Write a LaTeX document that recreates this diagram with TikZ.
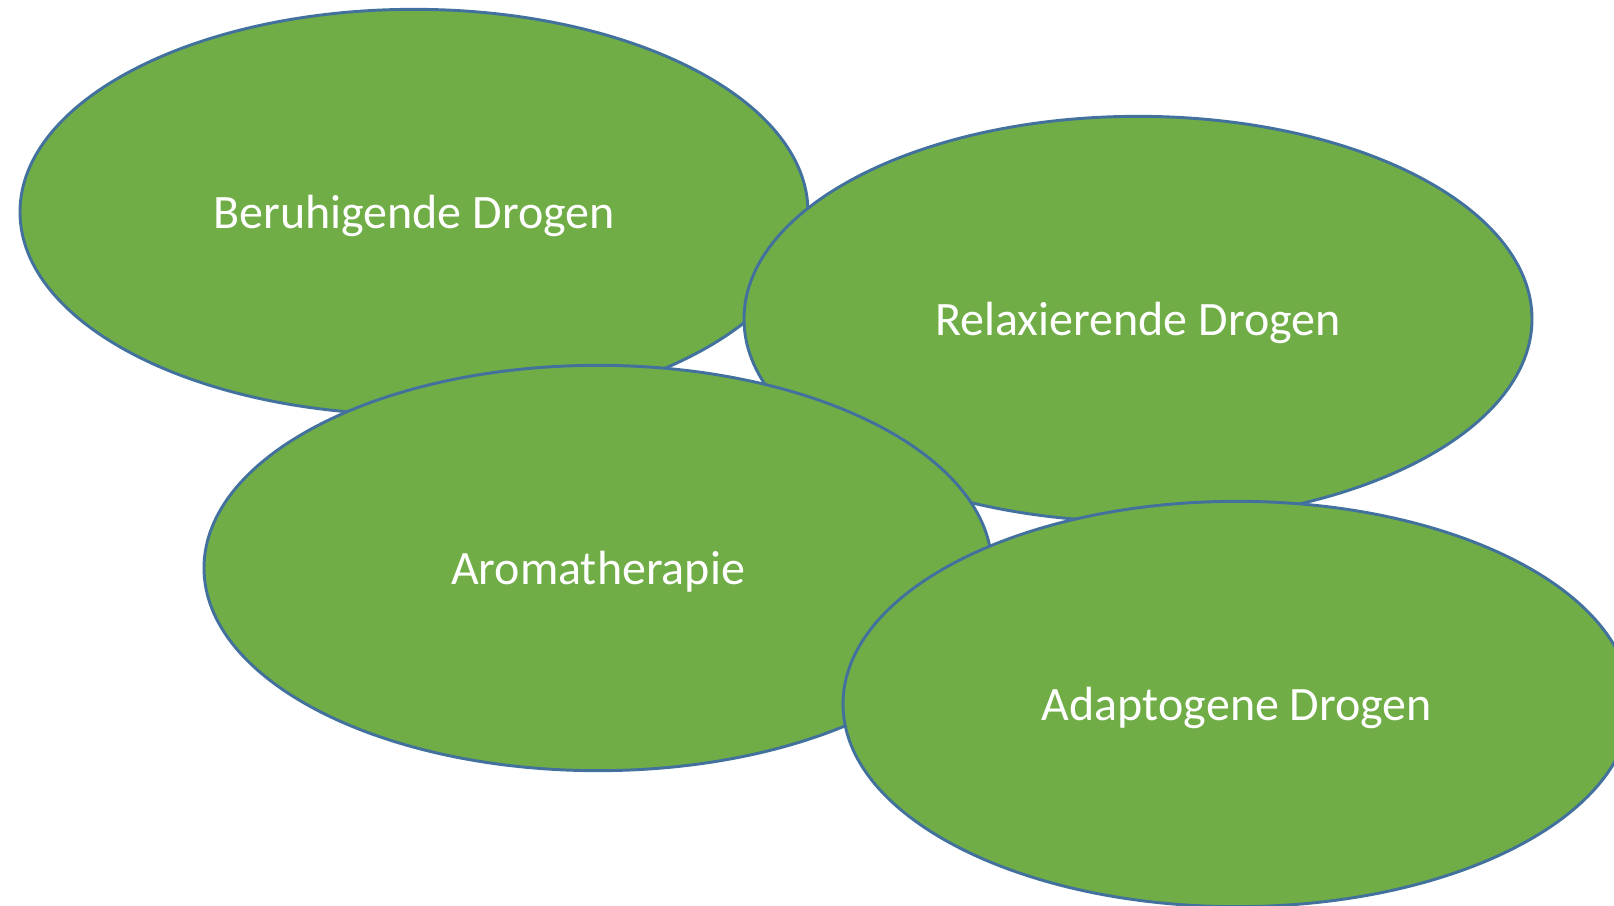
\documentclass[tikz,border=0pt]{standalone}
\usepackage{fontspec}
\setmainfont{Carlito}
\usetikzlibrary{shapes.geometric}
\definecolor{leafgreen}{HTML}{70AD47}
\definecolor{rimblue}{HTML}{41719C}

\begin{document}
\begin{tikzpicture}[x=0.75pt, y=-0.75pt, thick]
        \tikzstyle{topic} = [ellipse, draw=rimblue, line width=2.2pt, fill=leafgreen, text=white, font=\fontsize{36}{42}\selectfont, text height=25pt, text depth=0pt, minimum width=591pt, minimum height=304pt, inner sep=0pt]
        \clip (0,0) rectangle (1614,906);
        \useasboundingbox (0,0) rectangle (1614,906);
        \node[topic] (calming) at (414,212) {Beruhigende Drogen};
        \node[topic] (relaxing) at (1138,319) {Relaxierende Drogen};
        \node[topic] (aroma) at (598,568) {Aromatherapie};
        \node[topic] (adapto) at (1237,704) {Adaptogene Drogen};
    \end{tikzpicture}
\end{document}
